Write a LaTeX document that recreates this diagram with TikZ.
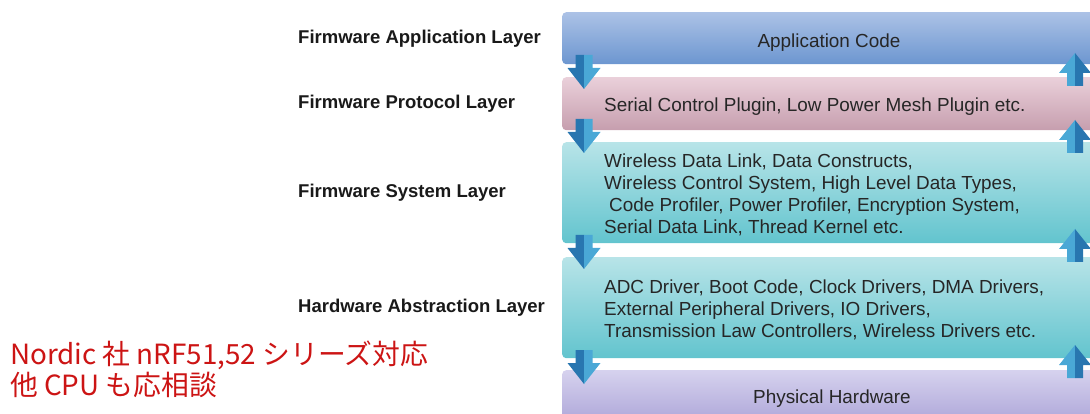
\documentclass[tikz,border=0pt]{standalone}
\usepackage{fontspec}
\setmainfont{Liberation Sans}
\newfontfamily\jpfont{Noto Sans CJK JP}
\definecolor{appTop}{RGB}{172,194,230}
\definecolor{appBot}{RGB}{108,150,208}
\definecolor{proTop}{RGB}{234,208,218}
\definecolor{proBot}{RGB}{198,158,174}
\definecolor{sysTop}{RGB}{184,228,232}
\definecolor{sysBot}{RGB}{98,196,206}
\definecolor{phyTop}{RGB}{214,210,238}
\definecolor{phyBot}{RGB}{168,160,214}
\definecolor{arrDark}{RGB}{40,118,176}
\definecolor{arrLight}{RGB}{74,168,214}
\definecolor{jpred}{RGB}{204,20,20}
\newcommand\dnarrowat[2]{%
  \fill[arrDark] ({#1-8.5},{#2}) -- ({#1},{#2}) -- ({#1},{#2+34}) -- ({#1-16.5},{#2+13}) -- ({#1-8.5},{#2+13}) -- cycle;
  \fill[arrLight] ({#1},{#2}) -- ({#1+8.5},{#2}) -- ({#1+8.5},{#2+13}) -- ({#1+16.5},{#2+13}) -- ({#1},{#2+34}) -- cycle;}
\newcommand\uparrowat[2]{%
  \fill[arrLight] ({#1-8},{#2+33}) -- ({#1},{#2+33}) -- ({#1},{#2}) -- ({#1-16},{#2+20}) -- ({#1-8},{#2+20}) -- cycle;
  \fill[arrDark] ({#1},{#2+33}) -- ({#1+8},{#2+33}) -- ({#1+8},{#2+20}) -- ({#1+16},{#2+20}) -- ({#1},{#2}) -- cycle;}
\begin{document}
\begin{tikzpicture}[x=1pt,y=-1pt,
  layerbox/.style={draw=none, rounded corners=4pt, minimum width=540pt, anchor=north west, inner sep=0pt},
  boxtext/.style={font=\fontsize{18.9}{22}\selectfont, text=black!85, inner sep=0pt},
  leftlist/.style={boxtext, align=left, anchor=west},
  layerlabel/.style={font=\fontsize{18.5}{22}\selectfont\bfseries, text=black!90, inner sep=0pt, anchor=west},
  jptext/.style={font=\jpfont\fontsize{27.8}{30}\selectfont, text=jpred, inner sep=0pt, anchor=west}]
\useasboundingbox (0,0) rectangle (1090,414);
\clip (0,0) rectangle (1090,414);
% layer boxes
\node (app) [layerbox, top color=appTop, bottom color=appBot, minimum height=52pt] at (562,12) {};
\node (pro) [layerbox, top color=proTop, bottom color=proBot, minimum height=53pt] at (562,77) {};
\node (sys) [layerbox, top color=sysTop, bottom color=sysBot, minimum height=101pt] at (562,142) {};
\node (hal) [layerbox, top color=sysTop, bottom color=sysBot, minimum height=101pt] at (562,257) {};
\node (phy) [layerbox, top color=phyTop, bottom color=phyBot, minimum height=60pt] at (562,370) {};
% box texts
\node (apptext) [boxtext] at (829,43) {Application Code};
\node (protext) [leftlist] at (604,107) {Serial Control Plugin, Low Power Mesh Plugin etc.};
\node (systext) [leftlist] at (604,195) {Wireless Data Link, Data Constructs,\\Wireless Control System, High Level Data Types,\\\hspace{5pt}Code Profiler, Power Profiler, Encryption System,\\Serial Data Link, Thread Kernel etc.};
\node (haltext) [leftlist] at (604,310) {ADC Driver, Boot Code, Clock Drivers, DMA Drivers,\\External Peripheral Drivers, IO Drivers,\\Transmission Law Controllers, Wireless Drivers etc.};
\node (phytext) [boxtext] at (832,399) {Physical Hardware};
% layer labels
\node (l1) [layerlabel] at (298,39) {Firmware Application Layer};
\node (l2) [layerlabel] at (298,104) {Firmware Protocol Layer};
\node (l3) [layerlabel] at (298,193) {Firmware System Layer};
\node (l4) [layerlabel] at (298,308) {Hardware Abstraction Layer};
% arrows
\dnarrowat{584}{55}
\dnarrowat{584}{119}
\dnarrowat{584}{235}
\dnarrowat{584}{350}
\uparrowat{1075}{53}
\uparrowat{1075}{120}
\uparrowat{1075}{229}
\uparrowat{1075}{345}
% red note
\node (jp1) [jptext] at (10,355) {Nordic 社 nRF51,52 シリーズ対応};
\node (jp2) [jptext] at (10,385) {他 CPU も応相談};
\end{tikzpicture}
\end{document}
